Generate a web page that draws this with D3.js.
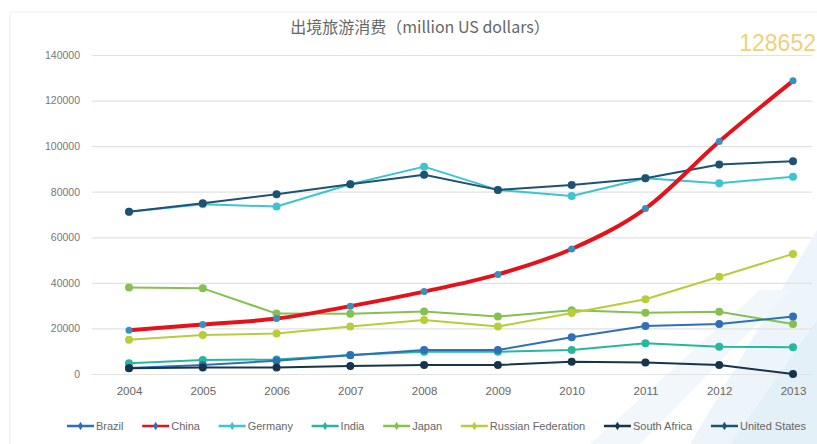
<!DOCTYPE html>
<html><head><meta charset="utf-8">
<script src="https://cdn.jsdelivr.net/npm/d3@7"></script>
<style>html,body{margin:0;padding:0;background:#fff;}svg{display:block;}</style>
</head><body>
<svg id="c" width="817" height="444"></svg>
<script>
const years = [2004,2005,2006,2007,2008,2009,2010,2011,2012,2013];
const yTicks = [0,20000,40000,60000,80000,100000,120000,140000];
const seriesNames = ["Brazil","China","Germany","India","Japan","Russian Federation","South Africa","United States"];
const brazil = [2600,3900,5800,8200,10500,10500,16100,21100,21900,25200];
const china = [19149,21759,24322,29786,36157,43702,54880,72585,102000,128652];
const germany = [71200,74500,73500,83300,91000,80800,78100,85900,83700,86600];
const india = [4700,6100,6400,8300,9800,9800,10500,13500,12000,11700];
const japan = [38000,37600,26500,26400,27400,25200,28000,26900,27300,21900];
const russia = [15000,17100,17800,20800,23700,20800,26800,32800,42700,52700];
const southAfrica = [2500,2900,2900,3500,3950,3950,5400,5000,3950,0];
const unitedStates = [71200,74900,78900,83300,87400,80800,83000,85900,91900,93400];
const titleText = "出境旅游消费（million US dollars）";
const calloutText = "128652";

const values = [brazil,china,germany,india,japan,russia,southAfrica,unitedStates];
const lineColors = ["#2f6fb8","#e5121b","#3ec3d3","#25b89c","#86c052","#b8cc3c","#16344c","#1e5273"];
const markerColors = ["#2f6fb8","#3a8fbe","#3ec3d3","#25b89c","#86c052","#b8cc3c","#16344c","#1e5273"];
const widths = [2,4,2,2,2,2,2,2];

const svg = d3.select("#c");
const font = "'Liberation Sans', Arial, sans-serif";

// background decoration
const bg = svg.append("g");
bg.append("rect").attr("x",0).attr("y",0).attr("width",817).attr("height",444).attr("fill","#fff");
bg.append("path").attr("d","M690,444 L817,230 L817,444 Z").attr("fill","#edf5fa");
bg.append("path").attr("d","M590,444 L760,290 L790,290 L640,444 Z").attr("fill","#f2f7fb");
bg.append("path").attr("d","M730,444 L817,320 L817,444 Z").attr("fill","#e4f0f8");
bg.append("line").attr("x1",10).attr("x2",10).attr("y1",12).attr("y2",444).attr("stroke","#ececec");
bg.append("line").attr("x1",10).attr("x2",817).attr("y1",12).attr("y2",12).attr("stroke","#f0f0f0");

const x = d3.scalePoint().domain(years).range([129,793]);
const y = d3.scaleLinear().domain([0,140000]).range([374,55]);

// gridlines
const yAxis = d3.axisLeft(y).tickValues(yTicks).tickSize(-(812-92)).tickPadding(12).tickFormat(d3.format("d"));
const ga = svg.append("g").attr("transform","translate(92,0)").call(yAxis);
ga.select(".domain").remove();
ga.selectAll(".tick line").attr("stroke","#e2e2e2").attr("stroke-width",1.2);
ga.selectAll(".tick text").attr("fill","#777").attr("font-family",font).attr("font-size","10.5px");

const xAxis = d3.axisBottom(x).tickSize(0).tickPadding(0);
const gx = svg.append("g").attr("transform","translate(0,387)").call(xAxis);
gx.select(".domain").remove();
gx.selectAll(".tick text").attr("fill","#666").attr("font-family",font).attr("font-size","11.5px").attr("dy","0.71em");

const line = d3.line().x((d,i)=>x(years[i])).y(d=>y(d));
const curve = d3.line().x((d,i)=>x(years[i])).y(d=>y(d)).curve(d3.curveMonotoneX);

const order = [4,5,3,0,6,2,7,1];
order.forEach(k=>{
  const g = svg.append("g");
  g.append("path").datum(values[k]).attr("d", k===1?curve:line)
    .attr("fill","none").attr("stroke",lineColors[k]).attr("stroke-width",widths[k]).attr("stroke-linejoin","round");
  g.selectAll("circle").data(values[k]).join("circle")
    .attr("cx",(d,i)=>x(years[i])).attr("cy",d=>y(d)).attr("r",k===1?3.5:4)
    .attr("fill",markerColors[k]);
});

// title
svg.append("text").attr("x",420).attr("y",33).attr("text-anchor","middle")
  .attr("font-family","'Noto Sans CJK SC', sans-serif").attr("font-size","16px").attr("fill","#666").text(titleText);
svg.append("text").attr("x",816).attr("y",51).attr("text-anchor","end")
  .attr("font-family",font).attr("font-size","23px").attr("fill","#ecd27a").text(calloutText);

// legend
const lg = svg.append("g").attr("transform","translate(0,426)");
const items = [];
seriesNames.forEach((n,k)=>{
  const it = lg.append("g");
  it.append("line").attr("x1",0).attr("x2",27).attr("stroke",lineColors[k]).attr("stroke-width",2.5);
  it.append("path").attr("d",d3.symbol(d3.symbolDiamond,22)()).attr("transform","translate(13.5,0)").attr("fill",markerColors[k===1?0:k]);
  const t = it.append("text").attr("x",29).attr("dy","0.35em").attr("font-family",font).attr("font-size","11px").attr("fill","#666").text(n);
  const w = 29 + t.node().getComputedTextLength();
  items.push({it,w});
});
const total = items.reduce((a,b)=>a+b.w,0);
const start = 67, end = 806;
const gap = (end-start-total)/(items.length-1);
let px = start;
items.forEach(o=>{ o.it.attr("transform",`translate(${px},0)`); px += o.w + gap; });
</script>
</body></html>
